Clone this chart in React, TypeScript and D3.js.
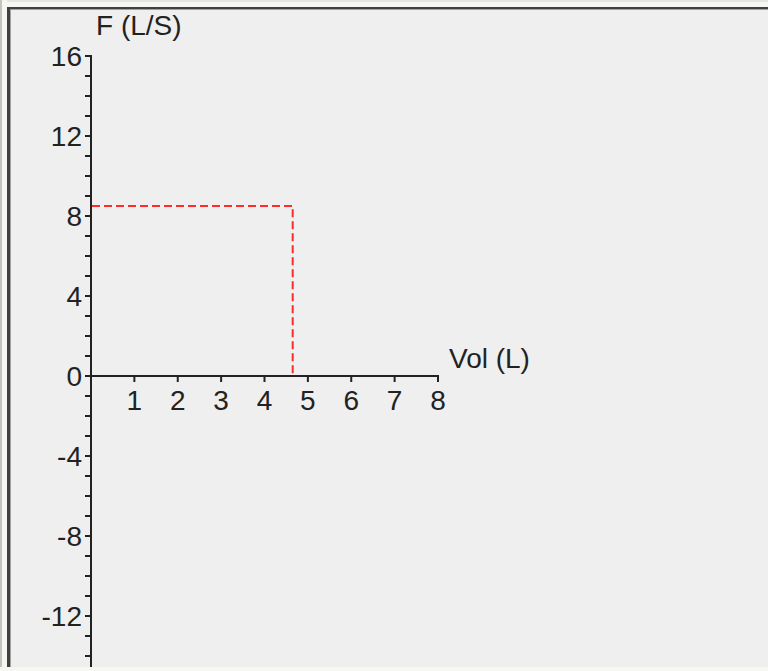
import React from "react";
import * as d3 from "d3";

// values
const yLabels = [16, 12, 8, 4, 0, -4, -8, -12];
const yMinor = d3.range(-14, 17, 1);
const xLabels = [1, 2, 3, 4, 5, 6, 7, 8];
const peakVol = 4.65;
const peakFlow = 8.5;

const W = 768,
  H = 671;

export default function App() {
  const x = d3.scaleLinear().domain([0, 8]).range([91, 438]);
  const y = d3.scaleLinear().domain([0, 16]).range([376, 56]);

  const font = "'Liberation Sans', Arial, sans-serif";
  const ink = "#222";
  const fs = 28;

  const yTicks = yMinor.map((d) => (
    <line key={"ym" + d} x1={x(0) - 6} x2={x(0)} y1={y(d)} y2={y(d)} stroke={ink} strokeWidth={2} />
  ));

  const yText = yLabels.map((d) => (
    <text key={"yl" + d} x={82} y={y(d)} dy="0.36em" textAnchor="end" fontSize={fs} fill={ink} fontFamily={font}>
      {d}
    </text>
  ));

  const xTicks = xLabels.map((d) => (
    <g key={"x" + d}>
      <line x1={x(d)} x2={x(d)} y1={y(0)} y2={y(0) + 6} stroke={ink} strokeWidth={2} />
      <text x={x(d)} y={y(0) + 24} dy="0.36em" textAnchor="middle" fontSize={fs} fill={ink} fontFamily={font}>
        {d}
      </text>
    </g>
  ));

  return (
    <div style={{ position: "absolute", left: 0, top: 0 }}>
      <svg width={W} height={H} style={{ display: "block" }}>
        <rect width={W} height={H} fill="#efefef" />
        {/* window frame */}
        <rect x={0} y={0} width={W} height={7} fill="#f6f6f3" />
        <rect x={0} y={0} width={W} height={2} fill="#e4e4e0" />
        <rect x={0} y={0} width={7} height={H} fill="#f6f6f3" />
        <rect x={0} y={0} width={2} height={H} fill="#c4c4bc" />
        <rect x={7} y={7} width={W - 7} height={2} fill="#404040" />
        <rect x={9} y={9} width={W - 9} height={1} fill="#a0a0a0" />
        <rect x={7} y={7} width={3} height={H - 7} fill="#404040" />
        <rect x={10} y={9} width={1} height={H - 9} fill="#a0a0a0" />
        <rect x={0} y={H - 4} width={W} height={4} fill="#f6f6f3" />

        {/* axes */}
        <line x1={x(0)} x2={x(0)} y1={y(16) - 1} y2={667} stroke={ink} strokeWidth={2} />
        <line x1={x(0)} x2={x(8) + 1} y1={y(0)} y2={y(0)} stroke={ink} strokeWidth={2} />
        {yTicks}
        {yText}
        {xTicks}

        <text x={96} y={35} fontSize={fs} fill={ink} fontFamily={font}>
          F (L/S)
        </text>
        <text x={449} y={368} fontSize={fs} fill={ink} fontFamily={font}>
          Vol (L)
        </text>

        {/* peak flow / volume marker */}
        <path
          d={`M${x(0) + 1},${y(peakFlow)}H${x(peakVol)}V${y(0)}`}
          fill="none"
          stroke="#ff2a2a"
          strokeWidth={2}
          strokeDasharray="8,4"
        />
      </svg>
    </div>
  );
}
